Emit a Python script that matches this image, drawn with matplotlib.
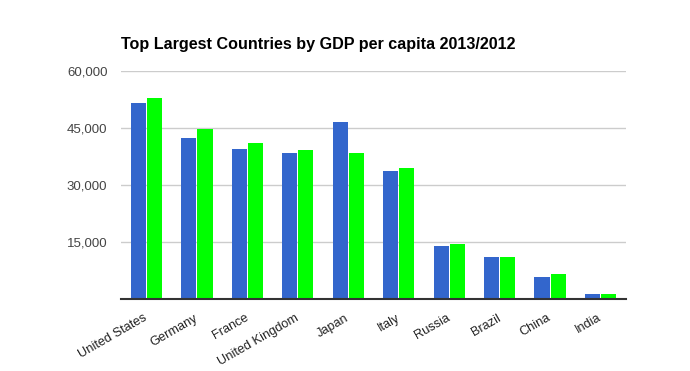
import matplotlib.pyplot as plt
import numpy as np

plt.rcParams['font.family'] = ['Liberation Sans', 'DejaVu Sans']

countries = ['United States', 'Germany', 'France', 'United Kingdom', 'Japan',
             'Italy', 'Russia', 'Brazil', 'China', 'India']
gdp_2013 = [51700, 42450, 39550, 38500, 46700, 33600, 14050, 11150, 5900, 1450]
gdp_2012 = [53000, 44800, 41100, 39300, 38300, 34600, 14550, 11150, 6650, 1450]
y_ticks = [15000, 30000, 45000, 60000]
title = 'Top Largest Countries by GDP per capita 2013/2012'

fig = plt.figure(figsize=(6.9, 3.71), dpi=100)
ax = fig.add_axes([0.1758, 0.194, 0.731, 0.6146])

x = np.arange(len(countries))
w = 0.30
gap = 0.01
ax.bar(x - w / 2 - gap, gdp_2013, width=w, color='#3366cc', zorder=3)
ax.bar(x + w / 2 + gap, gdp_2012, width=w, color='#00ff00', zorder=3)

ax.set_xlim(-0.5, len(countries) - 0.5)
ax.set_ylim(0, 60000)
ax.set_yticks(y_ticks)
ax.set_yticklabels(['{:,}'.format(v) for v in y_ticks], color='#444444', fontsize=9.5)
ax.tick_params(axis='y', length=0, pad=10)
ax.grid(axis='y', color='#cccccc', linewidth=1, zorder=0)

ax.set_xticks(x)
ax.set_xticklabels(countries, rotation=30, ha='right', va='center',
                   rotation_mode='anchor', color='#222222', fontsize=9.2)
ax.tick_params(axis='x', length=0, pad=13)

for side in ['top', 'right', 'left']:
    ax.spines[side].set_visible(False)
ax.spines['bottom'].set_color('#333333')
ax.spines['bottom'].set_linewidth(1.5)
ax.spines['bottom'].set_zorder(4)

fig.text(0.1758, 0.88, title, fontsize=11.6, fontweight='bold', ha='left', va='center')

plt.savefig('out.png', dpi=100)
